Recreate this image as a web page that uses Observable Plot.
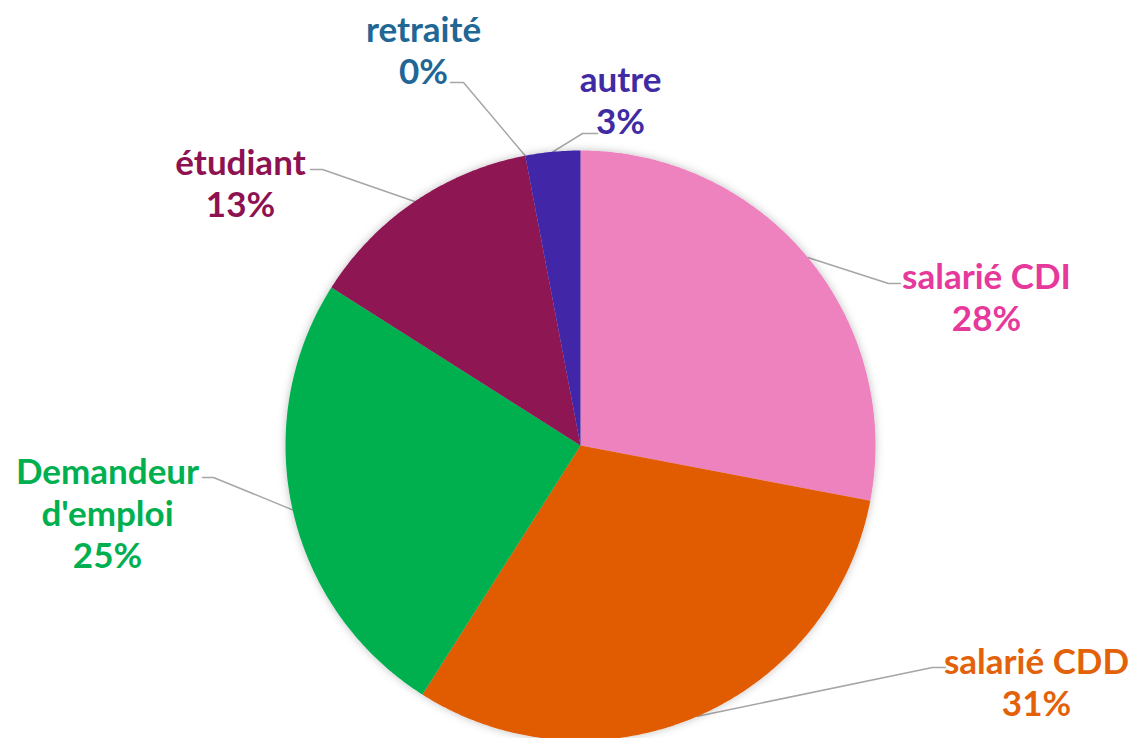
<!DOCTYPE html>
<html>
<head>
<meta charset="utf-8">
<script src="https://cdn.jsdelivr.net/npm/d3@7"></script>
<script src="https://cdn.jsdelivr.net/npm/@observablehq/plot@0.6"></script>
<style>
  html, body { margin: 0; padding: 0; background: #ffffff; }
  #chart svg { display: block; }
</style>
</head>
<body>
<div id="chart"></div>
<script>
// ---- data ----
const categories = ["salarié CDI", "salarié CDD", "Demandeur d'emploi", "étudiant", "retraité", "autre"];
const values = [28, 31, 25, 13, 0, 3];
const labelNames = ["salarié CDI", "salarié CDD", "Demandeur\nd'emploi", "étudiant", "retraité", "autre"];

// ---- styles ----
const sliceColors = ["#EE82BE", "#E15B00", "#00B050", "#8E1252", "#2E75B6", "#4225A8"];
const labelColors = ["#E6399B", "#E36209", "#00B050", "#8E1252", "#216795", "#3F2BA3"];

// ---- layout ----
const layout = {
  cx: 580, cy: 445, r: 295,
  // label block centres
  labels: [[986, 296], [1036, 681], [107, 512], [240, 182], [423, 49], [620, 99]],
  // leader elbows and ends (near labels)
  elbows: [[888, 283], [932, 667], [213, 477], [322, 169], [463, 82], [582, 133]],
  ends:   [[900, 283], [945, 667], [202, 477], [310, 169], [450, 82], [597, 133]]
};

const total = d3.sum(values);
const pt = (a, rr) => [layout.cx + rr * Math.sin(a), layout.cy - rr * Math.cos(a)];

// slices as polygons (clockwise from top)
const sliceRows = [];
const leaderRows = [];
let cum = 0;
categories.forEach((cat, i) => {
  const a0 = cum / total * 2 * Math.PI;
  cum += values[i];
  const a1 = cum / total * 2 * Math.PI;
  if (values[i] > 0) {
    sliceRows.push({cat, color: sliceColors[i], x: layout.cx, y: layout.cy});
    const n = Math.max(2, Math.ceil((a1 - a0) / (Math.PI / 360)));
    for (let k = 0; k <= n; k++) {
      const [x, y] = pt(a0 + (a1 - a0) * k / n, layout.r);
      sliceRows.push({cat, color: sliceColors[i], x, y});
    }
  }
  const [ex, ey] = pt((a0 + a1) / 2, layout.r);
  leaderRows.push({cat, x: ex, y: ey});
  leaderRows.push({cat, x: layout.elbows[i][0], y: layout.elbows[i][1]});
  leaderRows.push({cat, x: layout.ends[i][0], y: layout.ends[i][1]});
});

const labelRows = categories.map((cat, i) => ({
  cat,
  x: layout.labels[i][0],
  y: layout.labels[i][1],
  text: labelNames[i] + "\n" + values[i] + "%",
  color: labelColors[i]
}));

const chart = Plot.plot({
  width: 1130,
  height: 738,
  margin: 0,
  x: {domain: [0, 1130], range: [0, 1130], axis: null},
  y: {domain: [0, 738], range: [0, 738], axis: null},
  color: {type: "identity"},
  style: {background: "#ffffff"},
  marks: [
    Plot.line(leaderRows, {x: "x", y: "y", z: "cat", stroke: "#A6A6A6", strokeWidth: 1.5, curve: "linear"}),
    Plot.line(sliceRows, {x: "x", y: "y", z: "cat", fill: "color", stroke: "none", curve: "linear"}),
    Plot.text(labelRows, {
      x: "x", y: "y", text: "text", fill: "color",
      fontSize: 35, fontWeight: "bold", fontFamily: "Lato",
      lineHeight: 1.2, textAnchor: "middle", lineAnchor: "middle"
    })
  ]
});

// subtle shadow under the pie
const ns = "http://www.w3.org/2000/svg";
const defs = document.createElementNS(ns, "defs");
defs.innerHTML = '<filter id="pieShadow" x="-20%" y="-20%" width="140%" height="140%"><feDropShadow dx="0" dy="0" stdDeviation="4" flood-color="#000" flood-opacity="0.25"/></filter>';
chart.insertBefore(defs, chart.firstChild);
const lineGroups = chart.querySelectorAll('g[aria-label="line"]');
if (lineGroups.length > 1) lineGroups[1].setAttribute("filter", "url(#pieShadow)");

document.getElementById("chart").appendChild(chart);
</script>
</body>
</html>
